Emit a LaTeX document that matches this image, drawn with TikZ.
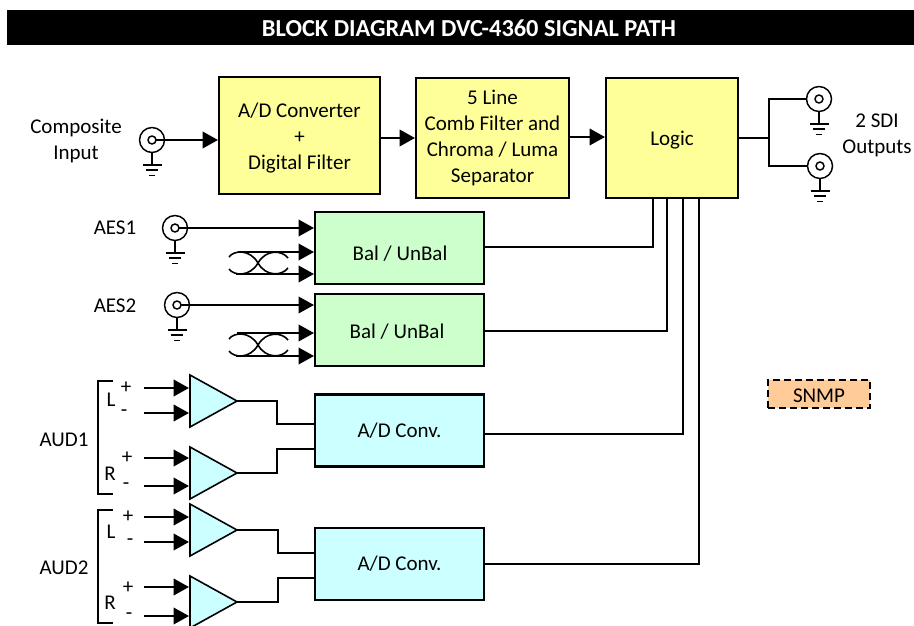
\documentclass[tikz,border=0pt]{standalone}
\usepackage{fontspec}
\setmainfont{Carlito}
\usetikzlibrary{arrows.meta}
\tikzset{
  x=0.75pt,y=-0.75pt,
  lbl/.style={inner sep=0pt,outer sep=0pt,align=center,font=\fontsize{15.75}{19.5}\selectfont},
  blockbase/.style={draw=black,line width=1.7pt,inner sep=0pt,outer sep=0pt,align=center,font=\fontsize{15.75}{19.5}\selectfont},
  yellowblock/.style={blockbase,fill=yblk},
  greenblock/.style={blockbase,fill=gblk,minimum width=126.75pt,minimum height=54pt},
  cyanblock/.style={blockbase,fill=cblk,minimum width=126.75pt,minimum height=54pt},
  ring/.style={circle,draw=black,line width=1.1pt,minimum size=18.75pt,inner sep=0pt,outer sep=0pt},
  hub/.style={circle,draw=black,line width=1.1pt,fill=white,minimum size=6pt,inner sep=0pt,outer sep=0pt},
  wire/.style={draw=black,line width=1.1pt},
  thickwire/.style={draw=black,line width=1.6pt,line join=miter},
  feed/.style={draw=black,line width=1.1pt,-{Triangle[length=11.5pt,width=12.5pt]},shorten >=0.8pt},
  gnd/.style={draw=black,line width=1.1pt},
  twistline/.style={draw=black,line width=1.2pt},
  amp/.style={draw=black,fill=cblk,line width=1.2pt,line join=miter},
  bracket/.style={draw=black,line width=1.1pt},
}
\definecolor{yblk}{HTML}{FFFF99}
\definecolor{gblk}{HTML}{CCFFCC}
\definecolor{cblk}{HTML}{CCFFFF}
\definecolor{oblk}{HTML}{FFCC99}
\newcommand{\bncjack}[3]{%
  \node[ring] (#1) at (#2,#3) {};
  \node[hub] (#1i) at (#2,#3) {};
  \coordinate (#1g) at (#2,#3+25);
  \draw[gnd] (#1.south) -- (#1g);
  \draw[gnd] (#2-9.5,#3+25) -- (#2+9.5,#3+25);
  \draw[gnd] (#2-6,#3+30) -- (#2+6,#3+30);
  \draw[gnd] (#2-3,#3+35.5) -- (#2+3,#3+35.5);
}
\newcommand{\twistpair}[2]{%
  \draw[twistline] (#1-29,#2-6) .. controls (#1-24,#2-13) and (#1-8,#2-14) .. (#1,#2) .. controls (#1+8,#2+14) and (#1+24,#2+13) .. (#1+30,#2+5);
  \draw[twistline] (#1-29,#2+6) .. controls (#1-24,#2+13) and (#1-8,#2+14) .. (#1,#2) .. controls (#1+8,#2-14) and (#1+24,#2-13) .. (#1+30,#2-5);
}
\begin{document}
\begin{tikzpicture}
\useasboundingbox (0,0) rectangle (914,625);
% title
\node[fill=black,inner sep=0pt,outer sep=0pt,minimum width=680.25pt,minimum height=26.25pt] (title) at (460.5,27.5) {};
\node[text=white,inner sep=0pt,font=\fontsize{18.3}{22}\selectfont\bfseries] (titletext) at (469,28.5) {BLOCK DIAGRAM DVC-4360 SIGNAL PATH};
% main blocks
\node[yellowblock,minimum width=120.75pt,minimum height=87.75pt] (ad) at (299.5,135.5) {};
\node[lbl] (adtext) at (299.5,138.5) {A/D Converter\\+\\Digital Filter};
\node[yellowblock,minimum width=114.75pt,minimum height=90pt] (comb) at (492.5,138) {5 Line\\Comb Filter and\\Chroma / Luma\\Separator};
\node[yellowblock,minimum width=99pt,minimum height=90pt] (logic) at (672,138) {};
\node[lbl] (logictext) at (672,140) {Logic};
\node[greenblock] (bal1) at (399.5,248) {};
\node[lbl] (bal1text) at (400,254) {Bal / UnBal};
\node[greenblock] (bal2) at (399.5,330) {};
\node[lbl] (bal2text) at (397,332) {Bal / UnBal};
\node[cyanblock] (conv1) at (399.5,430.5) {A/D Conv.};
\node[cyanblock] (conv2) at (399.5,564) {A/D Conv.};
\node[draw=black,fill=oblk,line width=1.4pt,dash pattern=on 5.25pt off 3pt,minimum width=76.5pt,minimum height=21pt,inner sep=0pt,outer sep=0pt] (snmp) at (819,394) {};
\node[lbl] (snmptext) at (819,396) {SNMP};
% jacks
\bncjack{compjack}{152}{140}
\bncjack{aesa}{175}{228}
\bncjack{aesb}{177}{305}
\bncjack{sdia}{819}{99}
\bncjack{sdib}{820}{166}
% text labels
\node[lbl] (complbl) at (76,141) {Composite\\Input};
\node[lbl] (sdilbl) at (877,135) {2 SDI\\Outputs};
\node[lbl] (aes1lbl) at (115,228) {AES1};
\node[lbl] (aes2lbl) at (115,306) {AES2};
\node[lbl] (aud1lbl) at (64,440) {AUD1};
\node[lbl] (aud2lbl) at (64,568) {AUD2};
\node[lbl] (l1) at (111,400) {L};
\node[lbl] (r1) at (110,474) {R};
\node[lbl] (l2) at (111,532) {L};
\node[lbl] (r2) at (110,603) {R};
\node[lbl] (p1) at (126,388) {+};
\node[lbl] (m1) at (124,413) {-};
\node[lbl] (p2) at (127,458) {+};
\node[lbl] (m2) at (126,486) {-};
\node[lbl] (p3) at (128,517) {+};
\node[lbl] (m3) at (130,542) {-};
\node[lbl] (p4) at (128,588) {+};
\node[lbl] (m4) at (129,616) {-};
% top row connectors
\draw[feed,line width=1.2pt] (compjacki.east) -- (compjacki.east -| ad.west);
\draw[feed,line width=1.2pt] (ad.east |- 0,138) -- (comb.west |- 0,138);
\draw[feed,line width=1.2pt] (comb.east |- 0,137) -- (logic.west |- 0,137);
% SDI outputs
\coordinate (split) at (769,138);
\draw[thickwire] (logic.east |- split) -- (split);
\draw[thickwire] (sdia.west) -| (split) |- (sdib.west);
% AES feeds
\draw[feed] (aesai.east) -- (aesai.east -| bal1.west);
\draw[feed] (aesbi.east) -- (aesbi.east -| bal2.west);
\coordinate (pa1) at (238,252);
\coordinate (pa2) at (236,274);
\coordinate (pb1) at (237,333);
\coordinate (pb2) at (236,356);
\draw[feed] (pa1) -- (pa1 -| bal1.west);
\draw[feed] (pa2) -- (pa2 -| bal1.west);
\draw[feed] (pb1) -- (pb1 -| bal2.west);
\draw[feed] (pb2) -- (pb2 -| bal2.west);
\twistpair{258}{263}
\twistpair{258}{345}
% amplifiers
\coordinate (t1) at (237,401);
\coordinate (t2) at (237,473);
\coordinate (t3) at (237,530);
\coordinate (t4) at (237,602);
\draw[amp] (190,375) -- (t1) -- (190,427) -- cycle;
\draw[amp] (190,447) -- (t2) -- (190,499) -- cycle;
\draw[amp] (190,504) -- (t3) -- (190,556) -- cycle;
\draw[amp] (190,576) -- (t4) -- (190,628) -- cycle;
% amplifier inputs
\foreach \nm/\yy in {a/388,b/413,c/458,d/486,e/517,f/542,g/587,h/616}{
  \coordinate (in\nm) at (144,\yy);
  \coordinate (tipin\nm) at (190,\yy);
  \draw[feed,line width=1.2pt] (in\nm) -- (tipin\nm);
}
% amplifier outputs
\draw[wire] (t1) -| (277,424) -- (conv1.west |- 0,424);
\draw[wire] (t2) -| (277,449) -- (conv1.west |- 0,449);
\draw[wire] (t3) -| (278,553) -- (conv2.west |- 0,553);
\draw[wire] (t4) -| (278,578) -- (conv2.west |- 0,578);
% brackets
\draw[bracket] (113,381) -- (98,381) -- (98,494) -- (113,494);
\draw[bracket] (113,510) -- (98,510) -- (98,623) -- (113,623);
% logic return lines
\draw[wire] (bal1.east |- 0,247) -| (653,0 |- logic.south);
\draw[wire] (bal2.east |- 0,331) -| (667,0 |- logic.south);
\draw[wire] (conv1.east |- 0,434) -| (683,0 |- logic.south);
\draw[wire] (conv2.east) -| (699,0 |- logic.south);
\end{tikzpicture}
\end{document}
